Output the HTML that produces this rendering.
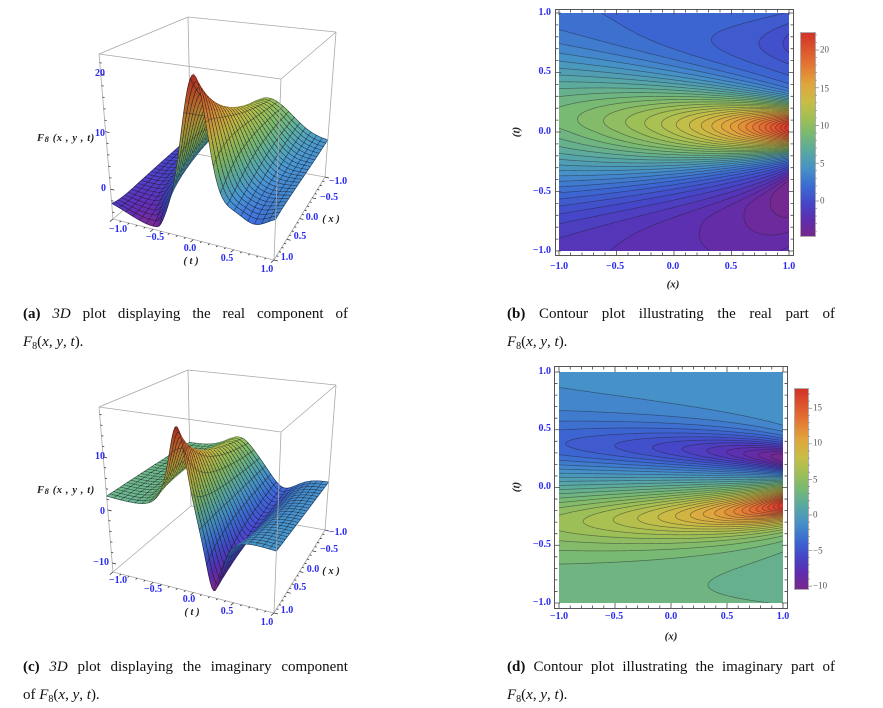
<!DOCTYPE html>
<html><head><meta charset="utf-8">
<style>
html,body{margin:0;padding:0;background:#fff;}
body{width:883px;height:708px;position:relative;overflow:hidden;}
#cv{position:absolute;left:0;top:0;width:883px;height:708px;}
.l{position:absolute;font-family:"Liberation Serif",serif;font-weight:bold;font-size:10px;color:#2a2af0;white-space:nowrap;line-height:1;transform:translate(-50%,-50%);}
.r{transform:translate(-100%,-50%);}
.ax{color:#222;font-style:italic;font-size:10.5px;}
.rot{transform:translate(-50%,-50%) rotate(-90deg);}
.cb{position:absolute;font-family:"Liberation Serif",serif;font-size:9px;color:#555;line-height:1;white-space:nowrap;transform:translate(0,-50%);}
.fl{position:absolute;font-family:"Liberation Serif",serif;font-weight:bold;font-style:italic;font-size:10.5px;color:#222;white-space:nowrap;line-height:1;transform:translate(0,-50%);letter-spacing:0.6px;}
.fl .s{font-size:8.5px;position:relative;top:1px;}
.cap{position:absolute;font-family:"Liberation Serif",serif;font-size:15px;color:#111;white-space:nowrap;line-height:15px;}
.j{display:flex;justify-content:space-between;}
.sb{font-size:10px;position:relative;top:3px;}
</style></head>
<body>
<canvas id="cv" width="883" height="708"></canvas>

<!-- (a) 3D real -->
<div class="l r" style="left:105px;top:74px">20</div>
<div class="l r" style="left:105px;top:134px">10</div>
<div class="l r" style="left:106px;top:189px">0</div>
<div class="fl" style="left:37px;top:139px">F<span class="s">8</span> (x , y , t)</div>
<div class="l" style="left:118px;top:230px">−1.0</div>
<div class="l" style="left:155px;top:238px">−0.5</div>
<div class="l" style="left:190px;top:249px">0.0</div>
<div class="l" style="left:227px;top:259px">0.5</div>
<div class="l" style="left:267px;top:270px">1.0</div>
<div class="l ax" style="left:191px;top:262px">( t )</div>
<div class="l" style="left:338px;top:182px">−1.0</div>
<div class="l" style="left:329px;top:198px">−0.5</div>
<div class="l" style="left:312px;top:218px">0.0</div>
<div class="l ax" style="left:331px;top:220px">( x )</div>
<div class="l" style="left:300px;top:237px">0.5</div>
<div class="l" style="left:287px;top:258px">1.0</div>

<!-- (c) 3D imaginary -->
<div class="l r" style="left:105px;top:457px">10</div>
<div class="l r" style="left:105px;top:512px">0</div>
<div class="l r" style="left:109px;top:563px">−10</div>
<div class="fl" style="left:37px;top:491px">F<span class="s">8</span> (x , y , t)</div>
<div class="l" style="left:118px;top:581px">−1.0</div>
<div class="l" style="left:153px;top:590px">−0.5</div>
<div class="l" style="left:189px;top:600px">0.0</div>
<div class="l" style="left:227px;top:612px">0.5</div>
<div class="l" style="left:267px;top:623px">1.0</div>
<div class="l ax" style="left:192px;top:613px">( t )</div>
<div class="l" style="left:338px;top:533px">−1.0</div>
<div class="l" style="left:329px;top:550px">−0.5</div>
<div class="l" style="left:313px;top:570px">0.0</div>
<div class="l ax" style="left:331px;top:572px">( x )</div>
<div class="l" style="left:300px;top:588px">0.5</div>
<div class="l" style="left:287px;top:611px">1.0</div>

<!-- (b) contour real -->
<div class="l r" style="left:551px;top:13px">1.0</div>
<div class="l r" style="left:551px;top:72px">0.5</div>
<div class="l r" style="left:551px;top:132px">0.0</div>
<div class="l r" style="left:551px;top:192px">−0.5</div>
<div class="l r" style="left:551px;top:251px">−1.0</div>
<div class="l" style="left:559px;top:267px">−1.0</div>
<div class="l" style="left:615px;top:267px">−0.5</div>
<div class="l" style="left:673px;top:267px">0.0</div>
<div class="l" style="left:731px;top:267px">0.5</div>
<div class="l" style="left:789px;top:267px">1.0</div>
<div class="l ax" style="left:673px;top:285px;font-size:11px">(<i>x</i>)</div>
<div class="l ax rot" style="left:517px;top:132px;font-size:11px">(<i>t</i>)</div>
<div class="cb" style="left:820px;top:50px">20</div>
<div class="cb" style="left:820px;top:89px">15</div>
<div class="cb" style="left:820px;top:126px">10</div>
<div class="cb" style="left:820px;top:164px">5</div>
<div class="cb" style="left:820px;top:201px">0</div>

<!-- (d) contour imaginary -->
<div class="l r" style="left:551px;top:372px">1.0</div>
<div class="l r" style="left:551px;top:429px">0.5</div>
<div class="l r" style="left:551px;top:487px">0.0</div>
<div class="l r" style="left:551px;top:545px">−0.5</div>
<div class="l r" style="left:551px;top:603px">−1.0</div>
<div class="l" style="left:559px;top:617px">−1.0</div>
<div class="l" style="left:614px;top:617px">−0.5</div>
<div class="l" style="left:671px;top:617px">0.0</div>
<div class="l" style="left:727px;top:617px">0.5</div>
<div class="l" style="left:783px;top:617px">1.0</div>
<div class="l ax" style="left:671px;top:637px;font-size:11px">(<i>x</i>)</div>
<div class="l ax rot" style="left:517px;top:487px;font-size:11px">(<i>t</i>)</div>
<div class="cb" style="left:813px;top:408px">15</div>
<div class="cb" style="left:813px;top:443px">10</div>
<div class="cb" style="left:813px;top:480px">5</div>
<div class="cb" style="left:813px;top:515px">0</div>
<div class="cb" style="left:813px;top:551px">−5</div>
<div class="cb" style="left:813px;top:586px">−10</div>

<!-- captions -->
<div class="cap j" style="left:23px;top:307px;width:325px"><span><b>(a)</b></span><span><i>3D</i></span><span>plot</span><span>displaying</span><span>the</span><span>real</span><span>component</span><span>of</span></div>
<div class="cap" style="left:23px;top:335px"><i>F</i><span class="sb">8</span>(<i>x</i>, <i>y</i>, <i>t</i>).</div>
<div class="cap j" style="left:507px;top:307px;width:328px"><span><b>(b)</b></span><span>Contour</span><span>plot</span><span>illustrating</span><span>the</span><span>real</span><span>part</span><span>of</span></div>
<div class="cap" style="left:507px;top:335px"><i>F</i><span class="sb">8</span>(<i>x</i>, <i>y</i>, <i>t</i>).</div>
<div class="cap j" style="left:23px;top:660px;width:325px"><span><b>(c)</b></span><span><i>3D</i></span><span>plot</span><span>displaying</span><span>the</span><span>imaginary</span><span>component</span></div>
<div class="cap" style="left:23px;top:688px">of <i>F</i><span class="sb">8</span>(<i>x</i>, <i>y</i>, <i>t</i>).</div>
<div class="cap j" style="left:507px;top:660px;width:328px"><span><b>(d)</b></span><span>Contour</span><span>plot</span><span>illustrating</span><span>the</span><span>imaginary</span><span>part</span><span>of</span></div>
<div class="cap" style="left:507px;top:688px"><i>F</i><span class="sb">8</span>(<i>x</i>, <i>y</i>, <i>t</i>).</div>

<script>
(function(){
const dpr=window.devicePixelRatio||1;
const cv=document.getElementById('cv');
cv.width=883*dpr;cv.height=708*dpr;
const ctx=cv.getContext('2d');ctx.scale(dpr,dpr);

const STOPS=[[0,120,40,140],[0.08,95,45,175],[0.16,70,70,200],[0.24,60,105,210],[0.33,70,145,200],[0.42,90,170,160],[0.5,120,185,115],[0.58,160,192,85],[0.66,200,190,70],[0.75,225,165,60],[0.85,228,115,50],[1,212,50,40]];
function cmap(f){
  if(!(f>0))return STOPS[0].slice(1);
  if(f>=1)return STOPS[STOPS.length-1].slice(1);
  for(let k=1;k<STOPS.length;k++){
    if(f<=STOPS[k][0]){const a=STOPS[k-1],b=STOPS[k];const s=(f-a[0])/(b[0]-a[0]);
      return [a[1]+(b[1]-a[1])*s,a[2]+(b[2]-a[2])*s,a[3]+(b[3]-a[3])*s];}
  }
  return STOPS[STOPS.length-1].slice(1);
}
function fRe(x,t){
  const a=1.2/(2.2-x);
  const P=22*a,w=0.2*Math.pow(a,-1.05),t0=0.03;
  const u=(t-t0)/w;let v=P*Math.exp(-u*u);
  const N=3.5*Math.pow(a,1.98);
  const tn=-0.45-0.8*(1-a);
  const wu=0.13/a,wl=0.5*Math.pow(a,-0.6);
  const dn=t-tn;const ww=dn>0?wu:wl;
  v-=N*Math.exp(-(dn/ww)*(dn/ww));
  v+=t>0?1.8*(1-Math.exp(-t/0.25)):-1.5*(1-Math.exp(t/0.3));
  const U=2.0*a*a*a;const du=(t-0.75)/0.22;
  v-=U*Math.exp(-du*du);
  return v;
}
function fIm(x,t){
  const a=1.2/(2.2-x),b=(1-a)/0.625;
  const Pp=17.5*Math.pow(a,1.3),wp=0.17*Math.pow(a,-0.79),tp=-0.15-0.12*b;
  const Pm=11.8*Math.pow(a,0.9),wm=0.17*Math.pow(a,-0.74),tm=0.25+0.1*b;
  const up=(t-tp)/wp,um=(t-tm)/wm;
  return Pp*Math.pow(1+up*up,-1.5)-Pm*Math.pow(1+um*um,-1.5)+0.75-1.75*t;
}

function contour(fn,X0,Y0,X1,Y1,vmin,vmax,nlev){
  const W=Math.round(X1-X0),H=Math.round(Y1-Y0);
  const off=document.createElement('canvas');off.width=W;off.height=H;
  const oc=off.getContext('2d');const img=oc.createImageData(W,H);
  const step=(vmax-vmin)/(nlev+1);
  for(let y=0;y<H;y++)for(let x=0;x<W;x++){
    const v=fn(-1+2*(x+0.5)/W,1-2*(y+0.5)/H);
    let b=Math.floor((v-vmin)/step);b=Math.max(0,Math.min(nlev,b));
    const c=cmap((b+0.5)/(nlev+1));const p=(y*W+x)*4;
    img.data[p]=c[0];img.data[p+1]=c[1];img.data[p+2]=c[2];img.data[p+3]=255;
  }
  oc.putImageData(img,0,0);ctx.drawImage(off,X0,Y0,X1-X0,Y1-Y0);
  const N=2,gw=W*N+1,gh=H*N+1;const g=new Float32Array(gw*gh);
  for(let j=0;j<gh;j++){const t=1-2*j/(gh-1);for(let i=0;i<gw;i++)g[j*gw+i]=fn(-1+2*i/(gw-1),t);}
  const sx=(X1-X0)/(gw-1),sy=(Y1-Y0)/(gh-1);
  ctx.save();ctx.beginPath();ctx.rect(X0,Y0,X1-X0,Y1-Y0);ctx.clip();
  ctx.beginPath();
  for(let k=1;k<=nlev;k++){const L=vmin+k*step;
    for(let j=0;j<gh-1;j++)for(let i=0;i<gw-1;i++){
      const a=g[j*gw+i],b=g[j*gw+i+1],c=g[(j+1)*gw+i+1],d=g[(j+1)*gw+i];
      const pa=a<L,pb=b<L,pc=c<L,pd=d<L;
      if(pa===pb&&pb===pc&&pc===pd)continue;
      const pts=[];
      if(pa!==pb){pts.push(i+(L-a)/(b-a),j);}
      if(pb!==pc){pts.push(i+1,j+(L-b)/(c-b));}
      if(pd!==pc){pts.push(i+(L-d)/(c-d),j+1);}
      if(pa!==pd){pts.push(i,j+(L-a)/(d-a));}
      if(pts.length>=4){ctx.moveTo(X0+pts[0]*sx,Y0+pts[1]*sy);ctx.lineTo(X0+pts[2]*sx,Y0+pts[3]*sy);}
      if(pts.length>=8){ctx.moveTo(X0+pts[4]*sx,Y0+pts[5]*sy);ctx.lineTo(X0+pts[6]*sx,Y0+pts[7]*sy);}
    }
  }
  ctx.strokeStyle='rgba(30,30,40,0.5)';ctx.lineWidth=0.7;ctx.stroke();
  ctx.restore();
}
function frame(X0,Y0,X1,Y1,fx0,fy0,fx1,fy1){
  ctx.strokeStyle='#555';ctx.lineWidth=1;
  ctx.strokeRect(fx0+0.5,fy0+0.5,fx1-fx0,fy1-fy0);
  ctx.beginPath();
  for(let k=-10;k<=10;k++){const v=k/10;const maj=(k%5===0);const len=maj?5:2.5;
    const px=X0+(v+1)/2*(X1-X0);
    ctx.moveTo(px,fy1);ctx.lineTo(px,fy1-len);
    ctx.moveTo(px,fy0+1);ctx.lineTo(px,fy0+1+len);
    const py=Y1-(v+1)/2*(Y1-Y0);
    ctx.moveTo(fx0+1,py);ctx.lineTo(fx0+1+len,py);
    ctx.moveTo(fx1,py);ctx.lineTo(fx1-len,py);
  }
  ctx.strokeStyle='#444';ctx.lineWidth=0.8;ctx.stroke();
}
function cbar(x0,y0,x1,y1,vmin,vmax){
  for(let y=y0;y<y1;y++){const f=1-(y+0.5-y0)/(y1-y0);const c=cmap(f);
    ctx.fillStyle='rgb('+(c[0]|0)+','+(c[1]|0)+','+(c[2]|0)+')';ctx.fillRect(x0,y,x1-x0,1);}
  ctx.strokeStyle='#999';ctx.lineWidth=0.8;ctx.strokeRect(x0-0.5,y0-0.5,x1-x0+1,y1-y0+1);
  ctx.beginPath();
  for(let v=Math.ceil(vmin);v<=vmax;v++){const y=y1-(v-vmin)/(vmax-vmin)*(y1-y0);
    const len=(v%5===0)?4:2;ctx.moveTo(x1,y);ctx.lineTo(x1+len,y);}
  ctx.strokeStyle='#888';ctx.lineWidth=0.7;ctx.stroke();
}
function plot3d(fn,oy,zlo,zhi,gam,zmajor,zminor){
  const C=a=>[a[0],a[1]+oy];
  const Bb=C([191,153]),Lb=C([113,219]),Rb=C([325,177]),Fb=C([274,260]);
  const Bt=C([188,17]),Lt=C([99,54]),Rt=C([336,32]),Ft=C([281,79]);
  const bil=(B,L,R,F,u,v)=>[(1-u)*(1-v)*B[0]+(1-u)*v*L[0]+u*(1-v)*R[0]+u*v*F[0],(1-u)*(1-v)*B[1]+(1-u)*v*L[1]+u*(1-v)*R[1]+u*v*F[1]];
  const P=(t,x,z)=>{const u=(t+1)/2,v=(x+1)/2,w=(z-zlo)/(zhi-zlo);const b=bil(Bb,Lb,Rb,Fb,u,v),p=bil(Bt,Lt,Rt,Ft,u,v);return [b[0]+(p[0]-b[0])*w,b[1]+(p[1]-b[1])*w];};
  const seg=(a,b)=>{ctx.moveTo(a[0],a[1]);ctx.lineTo(b[0],b[1]);};
  ctx.strokeStyle='#a8a8a8';ctx.lineWidth=0.8;ctx.beginPath();seg(Lb,Bb);seg(Bb,Rb);seg(Bb,Bt);ctx.stroke();
  const nt=96,nx=72,mt=4,mx=3;
  const Z=[],S=[];let dmin=1e9,dmax=-1e9;
  for(let i=0;i<=nt;i++){Z[i]=[];S[i]=[];const t=-1+2*i/nt;
    for(let j=0;j<=nx;j++){const x=-1+2*j/nx;const z=fn(x,t);Z[i][j]=z;S[i][j]=P(t,x,z);if(z<dmin)dmin=z;if(z>dmax)dmax=z;}}
  const Q=[];for(let i=0;i<nt;i++)for(let j=0;j<nx;j++)Q.push([0.55*(-1+2*(i+.5)/nt)+(-1+2*(j+.5)/nx),i,j]);
  Q.sort((a,b)=>a[0]-b[0]);
  const zs=2/(zhi-zlo),dt=2/nt,dx=2/nx;
  let l=[0.3,0.5,1];const ll=Math.hypot(l[0],l[1],l[2]);l=l.map(v=>v/ll);
  for(const q of Q){const i=q[1],j=q[2];
    const z00=Z[i][j],z10=Z[i+1][j],z11=Z[i+1][j+1],z01=Z[i][j+1];
    const gt=((z10+z11)-(z00+z01))/2/dt*zs,gx=((z01+z11)-(z00+z10))/2/dx*zs;
    const nl=Math.hypot(gt,gx,1);const nd=(-gt*l[0]-gx*l[1]+l[2])/nl;
    const sh=0.8+0.28*Math.max(0,nd);
    const zc=(z00+z10+z11+z01)/4;const f=Math.pow(Math.max(0,(zc-dmin)/(dmax-dmin)),gam);
    const c=cmap(f);
    const col='rgb('+Math.min(255,c[0]*sh|0)+','+Math.min(255,c[1]*sh|0)+','+Math.min(255,c[2]*sh|0)+')';
    const p00=S[i][j],p10=S[i+1][j],p11=S[i+1][j+1],p01=S[i][j+1];
    ctx.beginPath();ctx.moveTo(p00[0],p00[1]);ctx.lineTo(p10[0],p10[1]);ctx.lineTo(p11[0],p11[1]);ctx.lineTo(p01[0],p01[1]);ctx.closePath();
    ctx.fillStyle=col;ctx.fill();ctx.strokeStyle=col;ctx.lineWidth=0.6;ctx.stroke();
    ctx.beginPath();let any=false;
    if(j%mx===0){seg(p00,p10);any=true;}
    if((j+1)%mx===0){seg(p01,p11);any=true;}
    if(i%mt===0){seg(p00,p01);any=true;}
    if((i+1)%mt===0){seg(p10,p11);any=true;}
    if(any){ctx.strokeStyle='rgba(25,25,35,0.85)';ctx.lineWidth=0.6;ctx.stroke();}
  }
  ctx.strokeStyle='#a8a8a8';ctx.lineWidth=0.8;ctx.beginPath();
  seg(Lt,Bt);seg(Bt,Rt);seg(Rt,Ft);seg(Ft,Lt);seg(Lb,Lt);seg(Rb,Rt);seg(Fb,Ft);seg(Lb,Fb);seg(Fb,Rb);ctx.stroke();
  ctx.beginPath();
  const dL=[Lb[0]-Bb[0],Lb[1]-Bb[1]];let m=Math.hypot(dL[0],dL[1]);dL[0]/=m;dL[1]/=m;
  const dF=[Fb[0]-Lb[0],Fb[1]-Lb[1]];m=Math.hypot(dF[0],dF[1]);dF[0]/=m;dF[1]/=m;
  for(let k=-10;k<=10;k++){const v=k/10;const len=(k%5===0)?4:2;
    const a=P(v,1,zlo);ctx.moveTo(a[0],a[1]);ctx.lineTo(a[0]+dL[0]*len,a[1]+dL[1]*len);
    const b=P(1,v,zlo);ctx.moveTo(b[0],b[1]);ctx.lineTo(b[0]+dF[0]*len,b[1]+dF[1]*len);
  }
  for(let z=Math.ceil(zlo/zminor)*zminor;z<=zhi;z+=zminor){const len=(Math.abs(z%zmajor)<1e-9)?4:2;
    const a=P(-1,1,z);ctx.moveTo(a[0],a[1]);ctx.lineTo(a[0]+dF[0]*len,a[1]+dF[1]*len);}
  ctx.strokeStyle='#333';ctx.lineWidth=0.8;ctx.stroke();
}

plot3d(fRe,0,-5.2,23.5,0.8,10,2);
plot3d(fIm,353,-11.7,19.4,1.0,10,2);
contour(fRe,559,13,789,251,-4.64,22.25,40);
frame(559,13,789,251,555,9,793,255);
cbar(801,33,815,236,-4.64,22.25);
contour(fIm,559,372,783,603,-10.4,17.7,40);
frame(559,372,783,603,554,366,787,608);
cbar(795,389,808,589,-10.4,17.7);
})();
</script>
</body></html>
